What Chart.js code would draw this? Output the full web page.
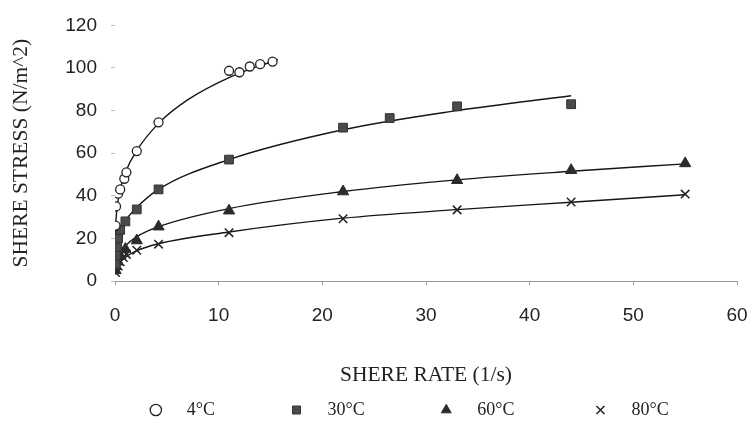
<!DOCTYPE html>
<html>
<head>
<meta charset="utf-8">
<script src="https://cdn.jsdelivr.net/npm/chart.js@4"></script>
<style>
  html, body { margin: 0; padding: 0; background: #fff; }
  #wrap { width: 753px; height: 423px; }
</style>
</head>
<body>
<div id="wrap"><canvas id="rheoChart" width="753" height="423"></canvas></div>
<script>
// measured points (shear rate 1/s, shear stress N/m^2)
const rates4 = [0.05, 0.1, 0.3, 0.5, 0.9, 1.1, 2.1, 4.2, 11, 12, 13, 14, 15.2];
const stress4 = [26, 35, 41, 43, 48, 51, 61, 74.5, 98.7, 98, 100.7, 101.8, 103];
const rates30 = [0.05, 0.1, 0.2, 0.3, 0.5, 1.0, 2.1, 4.2, 11, 22, 26.5, 33, 44];
const stress30 = [8, 12, 16, 20, 24, 28, 33.6, 43, 57, 72, 76.5, 82, 83];
const rates60 = [0.05, 0.1, 0.2, 0.5, 1.0, 2.1, 4.2, 11, 22, 33, 44, 55];
const stress60 = [5, 7, 9, 12, 15, 19, 25.5, 33, 42, 47.3, 52, 55.2];
const rates80 = [0.05, 0.1, 0.3, 0.5, 0.8, 1.1, 2.1, 4.2, 11, 22, 33, 44, 55];
const stress80 = [4, 5.5, 7, 9, 11, 12.5, 14.4, 17.3, 22.7, 29.2, 33.4, 37.1, 40.8];

// trend curves
const fit4X = [0.02, 0.1, 0.3, 0.6, 1, 2, 4.2, 7, 11, 15.7];
const fit4Y = [19, 29, 38, 45, 51, 60.5, 74, 85, 95.5, 104];
const fit30X = [0.02, 0.1, 0.3, 1, 2, 4.2, 11, 22, 33, 44];
const fit30Y = [9, 14, 19, 28, 34, 43, 57, 71, 80, 87];
const fit60X = [0.02, 0.1, 0.3, 1, 2, 4.2, 11, 22, 33, 44, 55];
const fit60Y = [5, 8.5, 11.5, 16.5, 20.5, 25.5, 34, 42, 47.5, 51.5, 55];
const fit80X = [0.02, 0.1, 0.3, 1, 2, 4.2, 11, 22, 33, 44, 55];
const fit80Y = [3, 5, 7.5, 11, 14, 17.5, 23, 29.5, 33.5, 37, 40.5];

const seriesNames = ['4°C', '30°C', '60°C', '80°C'];
// spaces push legend text away from the marker and spread the items out
const legendText = [
  '    4°C               ',
  '    30°C               ',
  '    60°C                ',
  '    80°C       '
];
const xTicks = [0, 10, 20, 30, 40, 50, 60];
const yTicks = [0, 20, 40, 60, 80, 100, 120];

const pts = (xs, ys) => xs.map((x, i) => ({ x, y: ys[i] }));

const markers = (label, xs, ys, style) => Object.assign({
  label,
  data: pts(xs, ys),
  showLine: false,
  order: 0
}, style);

const trend = (xs, ys) => ({
  label: 'fit',
  data: pts(xs, ys),
  showLine: true,
  pointRadius: 0,
  borderColor: '#161616',
  borderWidth: 1.4,
  cubicInterpolationMode: 'monotone',
  order: 1
});

const data = {
  datasets: [
    markers(seriesNames[0], rates4, stress4, {
      pointStyle: 'circle', pointRadius: 4.5, backgroundColor: '#fff',
      borderColor: '#222', borderWidth: 1.3
    }),
    markers(seriesNames[1], rates30, stress30, {
      pointStyle: 'rect', pointRadius: 6.2, backgroundColor: '#4a4a4a',
      borderColor: '#333', borderWidth: 1
    }),
    markers(seriesNames[2], rates60, stress60, {
      pointStyle: 'triangle', pointRadius: 6.5, backgroundColor: '#2b2b2b',
      borderColor: '#2b2b2b', borderWidth: 1
    }),
    markers(seriesNames[3], rates80, stress80, {
      pointStyle: 'crossRot', pointRadius: 6, backgroundColor: '#222',
      borderColor: '#222', borderWidth: 1.5
    }),
    trend(fit4X, fit4Y),
    trend(fit30X, fit30Y),
    trend(fit60X, fit60Y),
    trend(fit80X, fit80Y)
  ]
};

const ctx = document.getElementById('rheoChart').getContext('2d');
new Chart(ctx, {
  type: 'scatter',
  data,
  options: {
    responsive: false,
    animation: false,
    layout: { padding: { left: 0, right: 16, top: 21, bottom: -6 } },
    plugins: {
      tooltip: { enabled: false },
      legend: {
        position: 'bottom',
        fullSize: false,
        labels: {
          usePointStyle: true,
          boxWidth: 8,
          boxHeight: 8,
          padding: 10,
          color: '#222',
          font: { family: '"Liberation Serif", "Times New Roman", serif', size: 18 },
          filter: item => item.datasetIndex < 4,
          generateLabels: chart => {
            const items = Chart.defaults.plugins.legend.labels.generateLabels(chart);
            items.forEach(item => {
              if (item.datasetIndex < 4) item.text = legendText[item.datasetIndex];
            });
            return items;
          }
        }
      }
    },
    scales: {
      x: {
        type: 'linear',
        min: 0,
        max: 60,
        afterBuildTicks: scale => { scale.ticks = xTicks.map(v => ({ value: v })); },
        afterFit: scale => {
          scale.height = 110;
          scale.paddingLeft = 0;
          scale.paddingRight = 0;
        },
        grid: { drawOnChartArea: false, tickLength: 4, color: '#999' },
        border: { display: true, color: '#999', width: 1 },
        ticks: {
          padding: 19,
          color: '#222',
          maxRotation: 0,
          font: { family: '"Liberation Sans", Arial, sans-serif', size: 19 }
        },
        title: {
          display: true,
          text: 'SHERE RATE (1/s)',
          color: '#222',
          padding: { top: 0, bottom: 3 },
          font: { family: '"Liberation Serif", "Times New Roman", serif', size: 21.5 }
        }
      },
      y: {
        type: 'linear',
        min: 0,
        max: 120,
        afterBuildTicks: scale => { scale.ticks = yTicks.map(v => ({ value: v })); },
        afterFit: scale => { scale.width = 115; },
        grid: { drawOnChartArea: false, tickLength: 4, color: '#bbb' },
        border: { display: false },
        ticks: {
          padding: 14,
          color: '#222',
          font: { family: '"Liberation Sans", Arial, sans-serif', size: 19 }
        },
        title: {
          display: true,
          text: 'SHERE STRESS (N/m^2)',
          color: '#222',
          padding: { top: 8, bottom: 0 },
          font: { family: '"Liberation Serif", "Times New Roman", serif', size: 21.5 }
        }
      }
    }
  }
});
</script>
</body>
</html>
